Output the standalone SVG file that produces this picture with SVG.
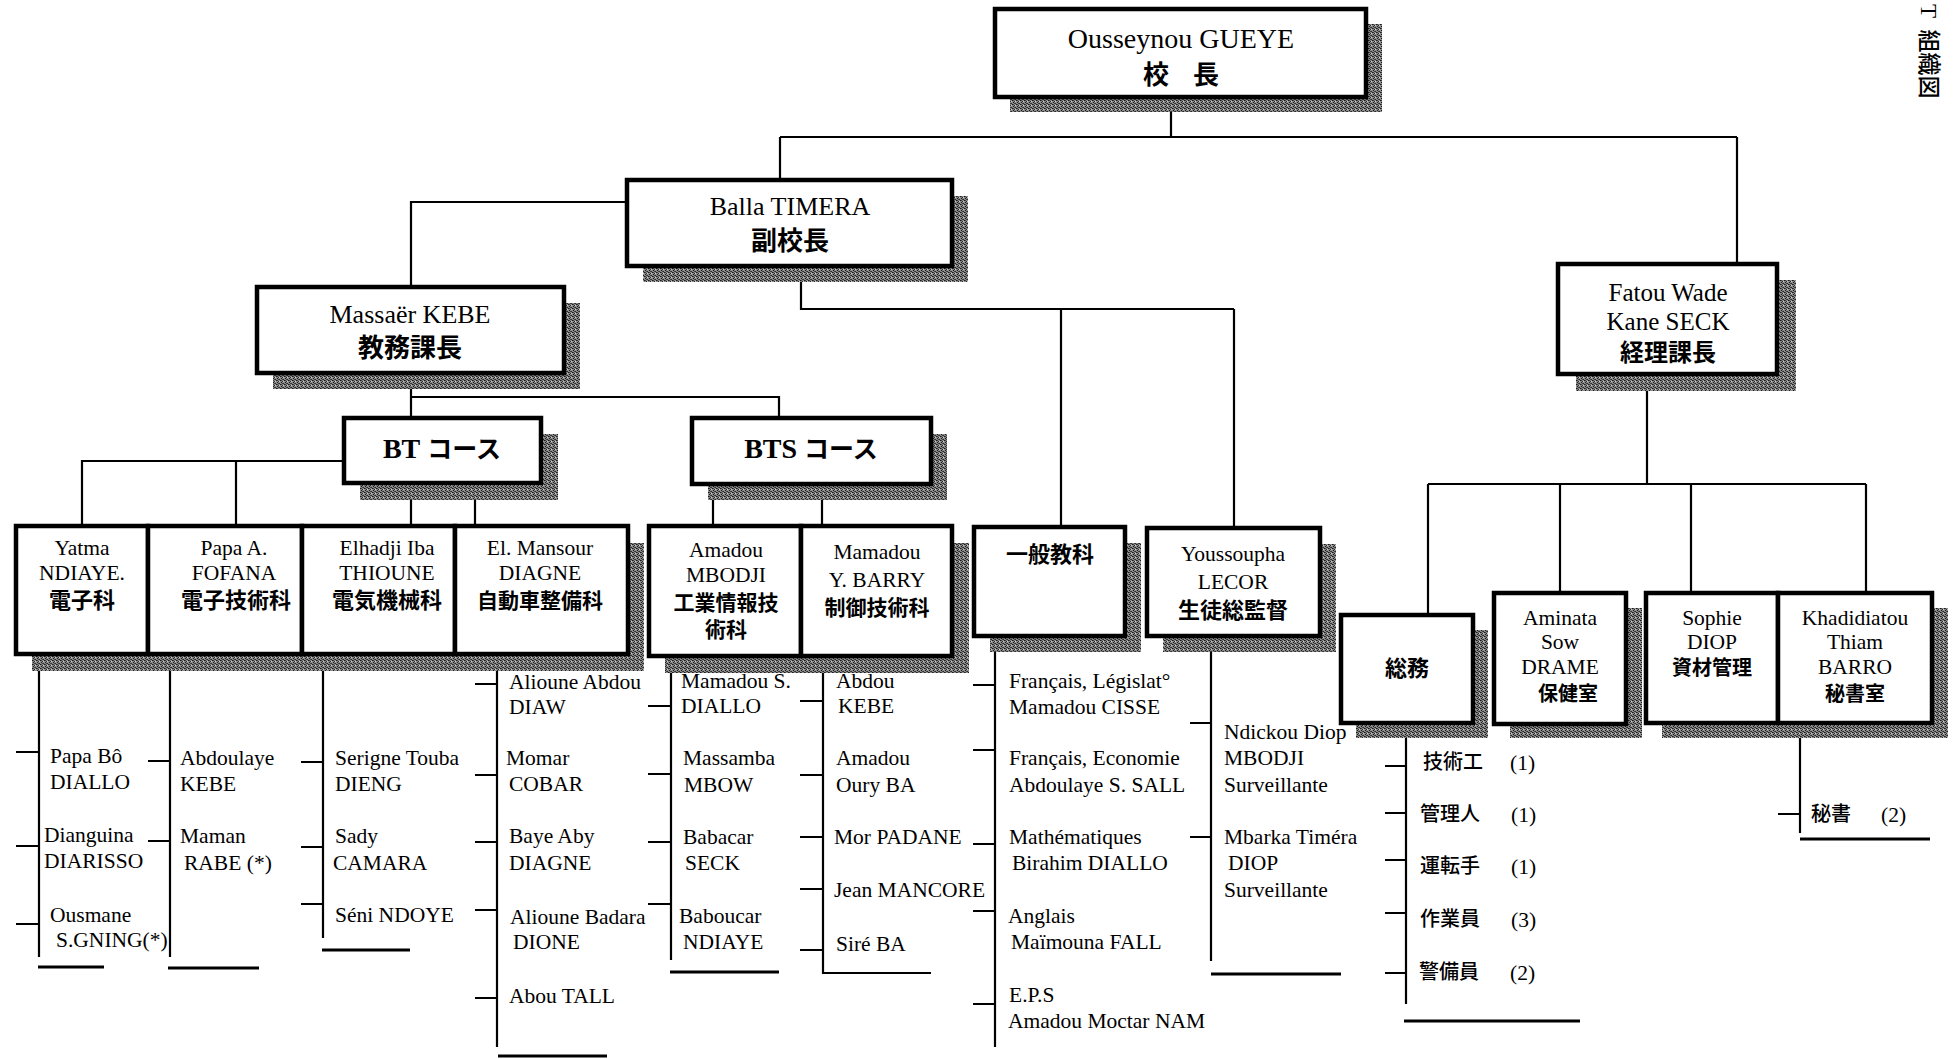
<svg xmlns="http://www.w3.org/2000/svg" width="1953" height="1059" viewBox="0 0 1953 1059">
<defs>
  <pattern id="dots" x="0" y="0" width="4" height="4" patternUnits="userSpaceOnUse">
    <rect x="0" y="0" width="4" height="4" fill="#8a8a8a"/>
    <rect x="0" y="0" width="1" height="1" fill="#1a1a1a"/>
    <rect x="2" y="1" width="1" height="1" fill="#2a2a2a"/>
    <rect x="1" y="2" width="1" height="1" fill="#1a1a1a"/>
    <rect x="3" y="3" width="1" height="1" fill="#2a2a2a"/>
    <rect x="3" y="1" width="1" height="1" fill="#c8c8c8"/>
    <rect x="1" y="0" width="1" height="1" fill="#444"/>
    <rect x="2" y="3" width="1" height="1" fill="#444"/>
  </pattern>
</defs>
<style>
.bg{fill:#fff}
.box{fill:#fff;stroke:#000;stroke-width:4.5}
.sh{fill:url(#dots)}
.ln{fill:none;stroke:#000;stroke-width:2.2}
.lt{fill:none;stroke:#000;stroke-width:3}
text{font-family:'Liberation Serif','Noto Sans CJK JP',serif;fill:#000}
.c{text-anchor:middle}
.mid{font-size:26px}
.s{font-size:21.5px}
.jp{font-family:'Noto Sans CJK JP','Liberation Serif',sans-serif;font-weight:700}
.jpl{font-family:'Noto Sans CJK JP','Liberation Serif',sans-serif;font-weight:500;font-size:20px}
.j22{font-size:22px}
.bold{font-weight:700}
</style>
<rect class="bg" x="0" y="0" width="1953" height="1059"/>

<g id="connectors">
  <path class="ln" d="M1171,97 V137 M780,137 H1737 M780,137 V180 M1737,137 V264"/>
  <path class="ln" d="M627,202 H411 V287"/>
  <path class="ln" d="M801,266 V309 H1234 M1061,309 V527 M1234,309 V528"/>
  <path class="ln" d="M411,373 V418 M411,397 H779 V418"/>
  <path class="ln" d="M344,461 H82 V526 M236,461 V526 M411,483 V526 M475,483 V526"/>
  <path class="ln" d="M713,484 V526 M822,484 V526"/>
  <path class="ln" d="M1647,374 V484 M1428,484 H1866 M1428,484 V615 M1560,484 V593 M1691,484 V593 M1866,484 V593"/>
  <path class="ln" d="M39,654 V957 M16,752 H39 M16,846 H39 M16,924 H39"/>
  <path class="lt" d="M38,967 H104"/>
  <path class="ln" d="M170,654 V957 M148,761 H170 M148,841 H170"/>
  <path class="lt" d="M168,968 H259"/>
  <path class="ln" d="M323,654 V938 M301,762 H323 M301,847 H323 M301,904 H323"/>
  <path class="lt" d="M322,950 H410"/>
  <path class="ln" d="M497,654 V1047 M475,684 H497 M475,775 H497 M475,842 H497 M475,910 H497 M475,998 H497"/>
  <path class="lt" d="M498,1056 H607"/>
  <path class="ln" d="M671,656 V960 M648,706 H671 M648,774 H671 M648,842 H671 M648,904 H671"/>
  <path class="lt" d="M670,972 H779"/>
  <path class="ln" d="M823,656 V973 H931 M800,701 H823 M800,775 H823 M800,837 H823 M800,889 H823 M800,950 H823"/>
  <path class="ln" d="M995,636 V1047 M973,685 H995 M973,750 H995 M973,844 H995 M973,911 H995 M973,1004 H995"/>
  <path class="ln" d="M1211,636 V961 M1190,723 H1211 M1190,837 H1211"/>
  <path class="lt" d="M1211,974 H1341"/>
  <path class="ln" d="M1406,723 V1004 M1385,766 H1406 M1385,813 H1406 M1385,860 H1406 M1385,913 H1406 M1385,973 H1406"/>
  <path class="lt" d="M1404,1021 H1580"/>
  <path class="ln" d="M1800,723 V833 M1778,814 H1800"/>
  <path class="lt" d="M1800,839 H1930"/>
</g>

<g id="principal">
  <rect class="sh" x="1010" y="24" width="372" height="88"/>
  <rect class="box" x="995" y="9" width="371" height="88"/>
  <text class="c" x="1181" y="48" font-size="28">Ousseynou GUEYE</text>
  <text class="c jp" x="1181" y="84" font-size="26" word-spacing="18">校 長</text>
</g>

<g id="balla">
  <rect class="sh" x="643" y="196" width="325" height="86"/>
  <rect class="box" x="627" y="180" width="325" height="86"/>
  <text class="c mid" x="790" y="215">Balla TIMERA</text>
  <text class="c jp mid" x="790" y="250">副校長</text>
</g>

<g id="massaer">
  <rect class="sh" x="273" y="303" width="307" height="86"/>
  <rect class="box" x="257" y="287" width="307" height="86"/>
  <text class="c mid" x="410" y="323">Massaër KEBE</text>
  <text class="c jp mid" x="410" y="357">教務課長</text>
</g>

<g id="fatou">
  <rect class="sh" x="1576" y="280" width="220" height="111"/>
  <rect class="box" x="1558" y="264" width="219" height="110"/>
  <text class="c" x="1668" y="301" font-size="25">Fatou Wade</text>
  <text class="c" x="1668" y="330" font-size="25">Kane SECK</text>
  <text class="c jp" x="1668" y="361" font-size="24">経理課長</text>
</g>

<g id="bt">
  <rect class="sh" x="360" y="434" width="198" height="66"/>
  <rect class="box" x="344" y="418" width="197" height="65"/>
  <text class="c" x="442" y="458" font-size="28"><tspan class="bold">BT</tspan> <tspan class="jp" font-weight="500" font-size="25">コース</tspan></text>
</g>

<g id="bts">
  <rect class="sh" x="708" y="434" width="239" height="66"/>
  <rect class="box" x="692" y="418" width="239" height="66"/>
  <text class="c" x="811" y="458" font-size="28"><tspan class="bold">BTS</tspan> <tspan class="jp" font-weight="500" font-size="25">コース</tspan></text>
</g>

<g id="bt-row-shadow">
  <rect class="sh" x="32" y="543" width="612" height="128"/>
</g>
<g id="yatma">
  <rect class="box" x="16" y="526" width="132" height="128"/>
  <text class="c s" x="82" y="555">Yatma</text>
  <text class="c s" x="82" y="580">NDIAYE.</text>
  <text class="c jp j22" x="82" y="608">電子科</text>
</g>
<g id="papa">
  <rect class="box" x="148" y="526" width="154" height="128"/>
  <text class="c s" x="234" y="555">Papa A.</text>
  <text class="c s" x="234" y="580">FOFANA</text>
  <text class="c jp j22" x="236" y="608">電子技術科</text>
</g>
<g id="elhadji">
  <rect class="box" x="302" y="526" width="153" height="128"/>
  <text class="c s" x="387" y="555">Elhadji Iba</text>
  <text class="c s" x="387" y="580">THIOUNE</text>
  <text class="c jp j22" x="387" y="608">電気機械科</text>
</g>
<g id="mansour">
  <rect class="box" x="455" y="526" width="173" height="128"/>
  <text class="c s" x="540" y="555">El. Mansour</text>
  <text class="c s" x="540" y="580">DIAGNE</text>
  <text class="c jp" x="540" y="608" font-size="21">自動車整備科</text>
</g>

<g id="bts-row-shadow">
  <rect class="sh" x="665" y="543" width="304" height="130"/>
</g>
<g id="amadou">
  <rect class="box" x="649" y="526" width="152" height="130"/>
  <text class="c s" x="726" y="557">Amadou</text>
  <text class="c s" x="726" y="582">MBODJI</text>
  <text class="c jp" x="726" y="610" font-size="21">工業情報技</text>
  <text class="c jp" x="726" y="637" font-size="21">術科</text>
</g>
<g id="mamadou">
  <rect class="box" x="801" y="526" width="151" height="130"/>
  <text class="c s" x="877" y="559">Mamadou</text>
  <text class="c s" x="877" y="587">Y. BARRY</text>
  <text class="c jp" x="877" y="615" font-size="21">制御技術科</text>
</g>

<g id="ippan">
  <rect class="sh" x="990" y="543" width="151" height="109"/>
  <rect class="box" x="974" y="527" width="151" height="109"/>
  <text class="c jp j22" x="1050" y="562">一般教科</text>
</g>

<g id="youssoupha">
  <rect class="sh" x="1163" y="544" width="173" height="108"/>
  <rect class="box" x="1147" y="528" width="173" height="108"/>
  <text class="c s" x="1233" y="561">Youssoupha</text>
  <text class="c s" x="1233" y="589">LECOR</text>
  <text class="c jp j22" x="1233" y="618">生徒総監督</text>
</g>

<g id="somu">
  <rect class="sh" x="1356" y="630" width="132" height="108"/>
  <rect class="box" x="1341" y="615" width="132" height="108"/>
  <text class="c jp j22" x="1407" y="676">総務</text>
</g>

<g id="aminata">
  <rect class="sh" x="1510" y="608" width="132" height="130"/>
  <rect class="box" x="1494" y="593" width="132" height="131"/>
  <text class="c s" x="1560" y="625">Aminata</text>
  <text class="c s" x="1560" y="649">Sow</text>
  <text class="c s" x="1560" y="674">DRAME</text>
  <text class="c jp" x="1568" y="701" font-size="20">保健室</text>
</g>

<g id="sophie-khadi-shadow">
  <rect class="sh" x="1662" y="608" width="286" height="130"/>
</g>
<g id="sophie">
  <rect class="box" x="1646" y="593" width="132" height="130"/>
  <text class="c s" x="1712" y="625">Sophie</text>
  <text class="c s" x="1712" y="649">DIOP</text>
  <text class="c jp" x="1712" y="675" font-size="20">資材管理</text>
</g>
<g id="khadidiatou">
  <rect class="box" x="1778" y="593" width="154" height="130"/>
  <text class="c s" x="1855" y="625">Khadidiatou</text>
  <text class="c s" x="1855" y="649">Thiam</text>
  <text class="c s" x="1855" y="674">BARRO</text>
  <text class="c jp" x="1855" y="701" font-size="20">秘書室</text>
</g>

<g id="list-yatma" class="s">
  <text x="50" y="763">Papa Bô</text>
  <text x="50" y="789">DIALLO</text>
  <text x="44" y="842">Dianguina</text>
  <text x="44" y="868">DIARISSO</text>
  <text x="50" y="922">Ousmane</text>
  <text x="56" y="947">S.GNING(*)</text>
</g>
<g id="list-papa" class="s">
  <text x="180" y="765">Abdoulaye</text>
  <text x="180" y="791">KEBE</text>
  <text x="180" y="843">Maman</text>
  <text x="184" y="870">RABE (*)</text>
</g>
<g id="list-elhadji" class="s">
  <text x="335" y="765">Serigne Touba</text>
  <text x="335" y="791">DIENG</text>
  <text x="335" y="843">Sady</text>
  <text x="333" y="870">CAMARA</text>
  <text x="335" y="922">Séni NDOYE</text>
</g>
<g id="list-mansour" class="s">
  <text x="509" y="689">Alioune Abdou</text>
  <text x="509" y="714">DIAW</text>
  <text x="506" y="765">Momar</text>
  <text x="509" y="791">COBAR</text>
  <text x="509" y="843">Baye Aby</text>
  <text x="509" y="870">DIAGNE</text>
  <text x="510" y="924">Alioune Badara</text>
  <text x="513" y="949">DIONE</text>
  <text x="509" y="1003">Abou TALL</text>
</g>
<g id="list-amadou" class="s">
  <text x="681" y="688">Mamadou S.</text>
  <text x="681" y="713">DIALLO</text>
  <text x="683" y="765">Massamba</text>
  <text x="684" y="792">MBOW</text>
  <text x="683" y="844">Babacar</text>
  <text x="685" y="870">SECK</text>
  <text x="679" y="923">Baboucar</text>
  <text x="683" y="949">NDIAYE</text>
</g>
<g id="list-mamadou" class="s">
  <text x="836" y="688">Abdou</text>
  <text x="838" y="713">KEBE</text>
  <text x="836" y="765">Amadou</text>
  <text x="836" y="792">Oury BA</text>
  <text x="834" y="844">Mor PADANE</text>
  <text x="834" y="897">Jean MANCORE</text>
  <text x="836" y="951">Siré BA</text>
</g>
<g id="list-ippan" class="s">
  <text x="1009" y="688">Français, Législat°</text>
  <text x="1009" y="714">Mamadou CISSE</text>
  <text x="1009" y="765">Français, Economie</text>
  <text x="1009" y="792">Abdoulaye S. SALL</text>
  <text x="1009" y="844">Mathématiques</text>
  <text x="1012" y="870">Birahim DIALLO</text>
  <text x="1008" y="923">Anglais</text>
  <text x="1011" y="949">Maïmouna FALL</text>
  <text x="1009" y="1002">E.P.S</text>
  <text x="1008" y="1028">Amadou Moctar NAM</text>
</g>
<g id="list-youssoupha" class="s">
  <text x="1224" y="739">Ndickou Diop</text>
  <text x="1224" y="765">MBODJI</text>
  <text x="1224" y="792">Surveillante</text>
  <text x="1224" y="844">Mbarka Timéra</text>
  <text x="1228" y="870">DIOP</text>
  <text x="1224" y="897">Surveillante</text>
</g>
<g id="list-somu">
  <text class="jpl" x="1423" y="769">技術工</text><text class="s" x="1510" y="770">(1)</text>
  <text class="jpl" x="1420" y="821">管理人</text><text class="s" x="1511" y="822">(1)</text>
  <text class="jpl" x="1420" y="873">運転手</text><text class="s" x="1511" y="874">(1)</text>
  <text class="jpl" x="1420" y="926">作業員</text><text class="s" x="1511" y="927">(3)</text>
  <text class="jpl" x="1419" y="979">警備員</text><text class="s" x="1510" y="980">(2)</text>
</g>
<g id="list-khadi">
  <text class="jpl" x="1811" y="821">秘書</text><text class="s" x="1881" y="822">(2)</text>
</g>

<g id="title">
  <text x="1921" y="4" font-family="'Noto Sans CJK JP','Liberation Sans',sans-serif" font-weight="500" font-size="23" word-spacing="6" transform="rotate(90 1921 4)">T 組織図</text>
</g>
</svg>
